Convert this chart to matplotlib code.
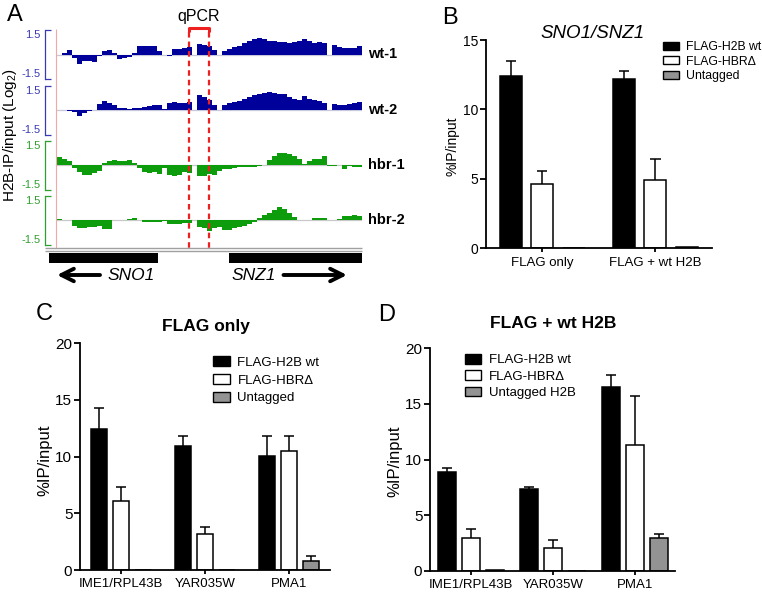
import numpy as np
import matplotlib
matplotlib.use('Agg')
import matplotlib.pyplot as plt
from matplotlib.patches import Patch

plt.rcParams['font.family'] = ['Liberation Sans', 'DejaVu Sans']
plt.rcParams['mathtext.fontset'] = 'custom'
plt.rcParams['mathtext.rm'] = 'Liberation Sans'

# ---------------- data ----------------
# panel A: ChIP-chip tracks, log2 H2B-IP/input, read as 61 bins across the locus
wt1 = [-0.05, 0.1, 0.25, -0.2, -0.6, -0.4, -0.4, -0.45, -0.1, 0.2,
       0.3, 0.1, -0.3, -0.2, -0.15, 0.1, 0.5, 0.5, 0.55, 0.5,
       0.2, 0.0, -0.1, 0.35, 0.35, 0.4, 0.45, 0.0, 0.65, 0.6,
       0.5, 0.3, 0.0, 0.2, 0.35, 0.45, 0.55, 0.7, 0.8, 0.95,
       1.0, 0.95, 0.85, 0.8, 0.75, 0.75, 0.7, 0.75, 0.8, 0.95,
       0.85, 0.7, 0.75, 0.7, 0.0, 0.6, 0.45, 0.4, 0.4, 0.4, 0.55]
wt2 = [0.02, 0.02, -0.05, -0.15, -0.35, -0.2, -0.05, 0.0, 0.35, 0.55,
       0.45, 0.3, 0.1, 0.1, 0.05, 0.12, 0.15, 0.2, 0.25, 0.3,
       0.3, 0.05, 0.4, 0.5, 0.45, 0.45, 0.5, 0.0, 0.9, 0.8,
       0.6, 0.3, 0.0, 0.3, 0.45, 0.5, 0.55, 0.7, 0.8, 0.9,
       0.95, 1.05, 1.1, 1.05, 1.0, 0.95, 0.8, 0.7, 0.6, 0.85,
       0.7, 0.6, 0.55, 0.45, 0.0, 0.35, 0.3, 0.3, 0.35, 0.45, 0.5]
hbr1 = [0.5, 0.35, 0.25, -0.2, -0.45, -0.6, -0.6, -0.5, -0.35, 0.15,
        0.25, 0.3, 0.25, 0.25, 0.3, 0.1, -0.2, -0.4, -0.5, -0.45,
        -0.55, -0.2, -0.6, -0.7, -0.6, -0.45, -0.5, 0.0, -0.7, -0.65,
        -0.55, -0.6, -0.35, -0.25, -0.25, -0.2, -0.15, -0.15, -0.15, -0.1,
        -0.05, 0.0, 0.3, 0.55, 0.75, 0.75, 0.65, 0.55, 0.35, 0.05,
        0.25, 0.35, 0.35, 0.55, -0.05, -0.05, 0.0, -0.25, -0.05, -0.15, -0.1]
hbr2 = [0.08, 0.02, 0.0, -0.35, -0.5, -0.5, -0.45, -0.4, -0.35, -0.55,
        -0.55, 0.0, 0.02, -0.02, 0.05, 0.12, 0.0, -0.1, -0.15, -0.1,
        -0.1, -0.08, -0.25, -0.25, -0.25, -0.2, -0.2, 0.0, -0.45, -0.5,
        -0.7, -0.5, -0.45, -0.6, -0.6, -0.5, -0.45, -0.35, -0.25, -0.1,
        0.15, 0.3, 0.45, 0.6, 0.8, 0.65, 0.45, 0.2, 0.0, 0.02,
        0.0, 0.15, 0.15, 0.1, 0.0, 0.0, 0.05, 0.25, 0.25, 0.28, 0.25]
track_names = ['wt-1', 'wt-2', 'hbr-1', 'hbr-2']
track_vals = [wt1, wt2, hbr1, hbr2]

# gene models and qPCR amplicon, in the same bin coordinates
genes = ['SNO1', 'SNZ1']
gene_start = [-1.7, 34.4]
gene_end = [20.1, 61.0]
qpcr = (26.4, 30.4)

# panels B-D: %IP/input, mean and SD
series = ['FLAG-H2B wt', 'FLAG-HBRΔ', 'Untagged']
series_d = ['FLAG-H2B wt', 'FLAG-HBRΔ', 'Untagged H2B']

b_groups = ['FLAG only', 'FLAG + wt H2B']
b_mean = [[12.4, 12.2], [4.6, 4.9], [0.03, 0.08]]
b_err = [[1.1, 0.6], [1.0, 1.5], [0.0, 0.0]]

loci = ['IME1/RPL43B', 'YAR035W', 'PMA1']
c_mean = [[12.4, 10.9, 10.1], [6.1, 3.2, 10.5], [0.0, 0.0, 0.8]]
c_err = [[1.9, 0.9, 1.75], [1.25, 0.6, 1.35], [0.0, 0.0, 0.4]]

d_mean = [[8.9, 7.35, 16.5], [2.95, 2.0, 11.3], [0.05, 0.0, 2.9]]
d_err = [[0.35, 0.15, 1.1], [0.8, 0.75, 4.4], [0.0, 0.0, 0.4]]

# ---------------- layout helpers ----------------
W, H = 762, 597
fig = plt.figure(figsize=(W / 100, H / 100), dpi=100)


def px_axes(x0, y0, x1, y1):
    return fig.add_axes([x0 / W, 1 - y1 / H, (x1 - x0) / W, (y1 - y0) / H])


def fxy(x, y):
    return x / W, 1 - y / H


# ---------------- panel A ----------------
blue, green = '#00009a', '#0c9c0c'
n = len(wt1)
edges = np.arange(n + 1)
zero_y = [54.5, 110, 165, 220]
half = 24.5

for name, vals, zy in zip(track_names, track_vals, zero_y):
    wt = name.startswith('wt')
    col = blue if wt else green
    axcol = '#3a3ab4' if wt else '#2f9f2f'
    ax = px_axes(57, zy - half, 362, zy + half)
    ax.patch.set_visible(False)
    ax.set_xlim(0, n)
    ax.set_ylim(-1.5, 1.5)
    ax.axhline(0, color='#c8c8dc' if wt else '#c8c8c8', lw=0.9, zorder=0)
    ax.stairs(vals, edges, baseline=0, fill=True, color=col)
    for s in ['top', 'right', 'bottom']:
        ax.spines[s].set_visible(False)
    ax.spines['left'].set_position(('outward', 9))
    ax.spines['left'].set_color(axcol)
    ax.spines['left'].set_linewidth(0.9)
    ax.set_xticks([])
    ax.set_yticks([-1.5, 1.5], ['-1.5', '1.5'])
    ax.tick_params(axis='y', direction='in', length=4, width=0.9, color=axcol,
                   labelcolor=axcol, labelsize=8, pad=3)
    for lab, va in zip(ax.get_yticklabels(), ['bottom', 'top']):
        lab.set_verticalalignment(va)
    ax.text(1.02, 0.5, name, transform=ax.transAxes, fontsize=10.5,
            fontweight='bold', va='center', ha='left')

# overlay for amplicon, genes, separators (x in bins, y in pixels)
ov = px_axes(57, 0, 362, 297)
ov.set_xlim(0, n)
ov.set_ylim(297, 0)
ov.axis('off')
red = '#ee2020'
q0, q1 = qpcr
ov.plot([q0, q0, q1, q1], [31.5, 27.5, 27.5, 31.5], color=red, lw=2.2,
        solid_capstyle='butt', clip_on=False)
ov.vlines([q0, q1], 31.5, 250, colors=red, lw=1.6, linestyles=(0, (2.5, 1.8)))
ov.text((q0 + q1) / 2, 16.5, 'qPCR', ha='center', va='center', fontsize=11.5)
ov.vlines(-0.2, 29, 248, color='#f3a8a8', lw=0.8, clip_on=False)
ov.hlines([248.3, 251], -2.4, n, color='#a0a0a0', lw=1, clip_on=False)
ov.barh([258.3] * 2, np.subtract(gene_end, gene_start), left=gene_start,
        height=9.8, color='black', clip_on=False)
arrow_kw = dict(arrowstyle='->, head_length=0.9, head_width=0.45', lw=2.8,
                color='black', shrinkA=0, shrinkB=0)
ov.annotate('', xy=(0.0, 275), xytext=(8.6, 275), arrowprops=arrow_kw)
ov.annotate('', xy=(58.0, 275), xytext=(45.3, 275), arrowprops=arrow_kw)
ov.text(14.9, 275.5, genes[0], style='italic', fontsize=12.5, ha='center', va='center')
ov.text(39.4, 275.5, genes[1], style='italic', fontsize=12.5, ha='center', va='center')

fig.text(*fxy(10, 135), 'H2B-IP/input (Log$_2$)', rotation=90, ha='center',
         va='center', fontsize=11)

# ---------------- bar panels ----------------
colors = ['black', 'white', '#939393']


def bar_panel(rect, groups, means, errs, step, width, capw, xlim, ymax,
              ytick_size):
    ax = px_axes(*rect)
    xs = np.arange(len(groups))
    for k, (m, e, c) in enumerate(zip(means, errs, colors)):
        m = np.asarray(m)
        e = np.asarray(e)
        x = xs + (k - 1) * step
        ax.bar(x, m, width, color=c, edgecolor='black', linewidth=1.1, zorder=2)
        has = e > 0
        ax.vlines(x[has], m[has], m[has] + e[has], color='black', lw=1.1, zorder=3)
        ax.hlines((m + e)[has], x[has] - capw, x[has] + capw, color='black',
                  lw=1.1, zorder=3)
    for s in ['top', 'right']:
        ax.spines[s].set_visible(False)
    for s in ['left', 'bottom']:
        ax.spines[s].set_linewidth(1.3)
    ax.set_xlim(*xlim)
    ax.set_ylim(0, ymax)
    ax.set_yticks(np.arange(0, ymax + 1, 5))
    ax.set_xticks(xs, groups)
    ax.tick_params(axis='y', direction='out', length=4, width=1.3,
                   labelsize=ytick_size, pad=1.5)
    ax.tick_params(axis='x', direction='out', length=3, width=1.3,
                   labelsize=9.5, pad=3)
    return ax


def add_legend(ax, labels, x, y, fs, hl, hh, sp):
    handles = [Patch(facecolor=c, edgecolor='black', linewidth=1) for c in colors]
    ax.legend(handles, labels, loc='upper left', bbox_to_anchor=fxy(x, y),
              bbox_transform=fig.transFigure, frameon=False, borderpad=0,
              borderaxespad=0, fontsize=fs, handlelength=hl, handleheight=hh,
              handletextpad=0.55, labelspacing=sp)


# B
axb = bar_panel((485.7, 40, 712, 248.3), b_groups, b_mean, b_err,
                0.28, 0.195, 0.045, (-0.5, 1.5), 15, 10)
add_legend(axb, series, 663, 41, 8.8, 1.3, 0.65, 0.22)
fig.text(*fxy(593, 33.5), 'SNO1/SNZ1', style='italic', fontsize=13.5,
         ha='center', va='center')
fig.text(*fxy(452, 146), '%IP/input', rotation=90, ha='center', va='center',
         fontsize=10)

# C
axc = bar_panel((80, 343.3, 330, 570), loci, c_mean, c_err,
                0.26, 0.19, 0.06, (-0.49, 2.49), 20, 11)
add_legend(axc, series, 213, 356, 9.5, 1.3, 0.8, 0.4)
fig.text(*fxy(205.5, 326), 'FLAG only', fontweight='bold', fontsize=12.5,
         ha='center', va='center')
fig.text(*fxy(45, 460), '%IP/input', rotation=90, ha='center', va='center',
         fontsize=12)

# D
axd = bar_panel((430, 348.3, 675, 570.7), loci, d_mean, d_err,
                0.29, 0.22, 0.06, (-0.5, 2.49), 20, 11)
add_legend(axd, series_d, 465, 354, 9.5, 1.25, 0.75, 0.3)
fig.text(*fxy(553, 323), 'FLAG + wt H2B', fontweight='bold', fontsize=12.5,
         ha='center', va='center')
fig.text(*fxy(395, 461.7), '%IP/input', rotation=90, ha='center', va='center',
         fontsize=12)

# panel letters
for letter, (lx, ly) in zip('ABCD', [(15, 15), (449.5, 18.5), (44, 314), (387, 315)]):
    fig.text(*fxy(lx, ly), letter, fontsize=17, ha='center', va='center')

fig.savefig('out.png', dpi=100)
